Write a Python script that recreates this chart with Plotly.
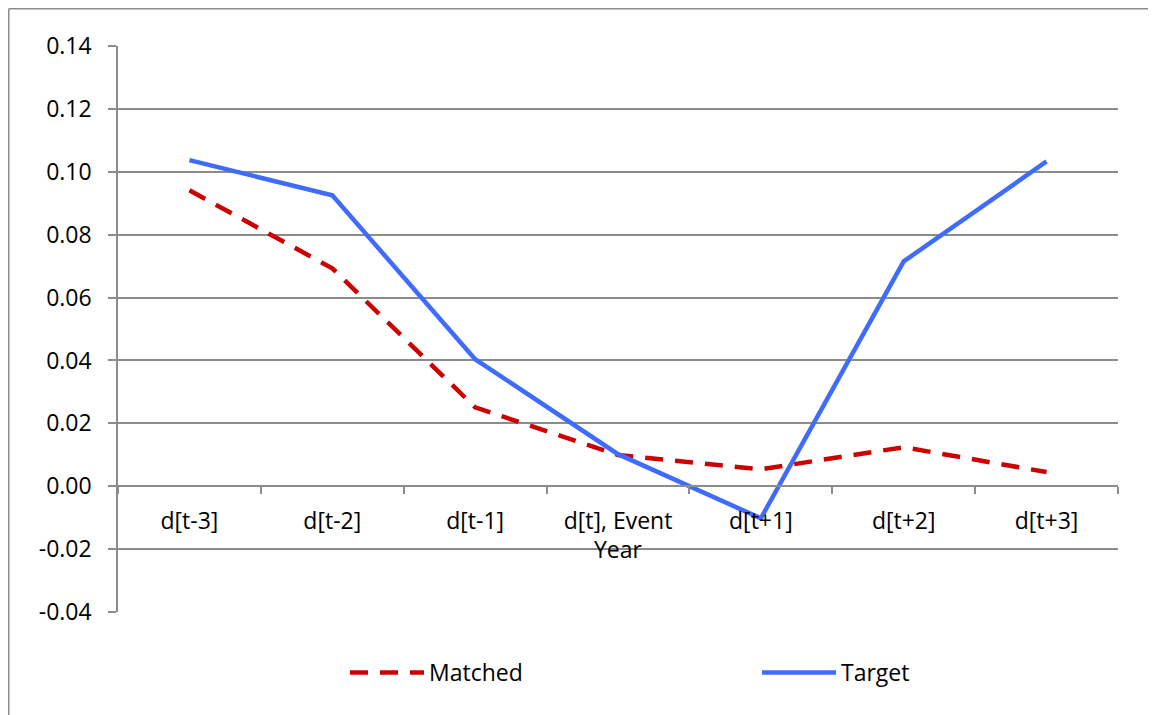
import plotly.graph_objects as go

categories = ["d[t-3]", "d[t-2]", "d[t-1]", "d[t], Event<br>Year", "d[t+1]", "d[t+2]", "d[t+3]"]
matched = [0.0941, 0.0693, 0.0251, 0.0099, 0.0054, 0.0124, 0.0045]
target = [0.1037, 0.0925, 0.0404, 0.0102, -0.0102, 0.0715, 0.1033]
y_ticks = [-0.04, -0.02, 0.0, 0.02, 0.04, 0.06, 0.08, 0.10, 0.12, 0.14]

FONT = "Open Sans"
GRID = "#8c8c8c"

fig = go.Figure()
fig.add_trace(go.Scatter(x=categories, y=matched, name="Matched", mode="lines",
                         line=dict(color="#CC0000", width=4.5, dash="18px,12px")))
fig.add_trace(go.Scatter(x=categories, y=target, name="Target", mode="lines",
                         line=dict(color="#3F6BFF", width=4.5)))

ymin, ymax = -0.04, 0.14
zero_pos = (0 - ymin) / (ymax - ymin)

# page body has an 8px margin; figure sized to fit the window
W, H = 1148, 707
L, T = 110, 38
PW, PH = 1000, 566

bx0 = (0.75 - L) / PW
bx1 = (W - L) / PW
by_top = (T + PH - 0.75) / PH
by_bot = (T + PH - H) / PH

fig.update_layout(
    width=W, height=H,
    margin=dict(l=L, r=W - L - PW, t=T, b=H - T - PH, autoexpand=False),
    paper_bgcolor="white", plot_bgcolor="white",
    font=dict(family=FONT, size=23, color="black"),
    showlegend=True,
    legend=dict(orientation="h", x=0.227, xanchor="left", y=-0.107, yanchor="middle",
                itemwidth=74, entrywidth=323, entrywidthmode="pixels",
                font=dict(family=FONT, size=23, color="black"),
                bgcolor="rgba(0,0,0,0)"),
    xaxis=dict(type="category", anchor="free", position=zero_pos,
               range=[-0.5, len(categories) - 0.5], automargin=False,
               showline=True, linecolor=GRID, linewidth=1.5,
               ticks="outside", ticklen=7, tickcolor=GRID, tickwidth=1.5,
               tickson="boundaries", showgrid=False, zeroline=False,
               ticklabelstandoff=14,
               tickfont=dict(family=FONT, size=23, color="black")),
    yaxis=dict(range=[ymin, ymax], tickvals=y_ticks, automargin=False,
               ticktext=[f"{v:.2f}" for v in y_ticks],
               showline=True, linecolor=GRID, linewidth=1.5,
               ticks="outside", ticklen=8, tickcolor=GRID, tickwidth=1.5,
               showgrid=True, gridcolor=GRID, gridwidth=1.5, zeroline=False,
               ticklabelstandoff=12,
               tickfont=dict(family=FONT, size=23, color="black")),
    shapes=[
        dict(type="line", xref="paper", yref="paper", x0=bx0, x1=bx0, y0=by_bot, y1=by_top,
             line=dict(color=GRID, width=1.5), layer="below"),
        dict(type="line", xref="paper", yref="paper", x0=bx0, x1=bx1, y0=by_top, y1=by_top,
             line=dict(color=GRID, width=1.5), layer="below"),
    ],
)

fig.write_html("out.html")
